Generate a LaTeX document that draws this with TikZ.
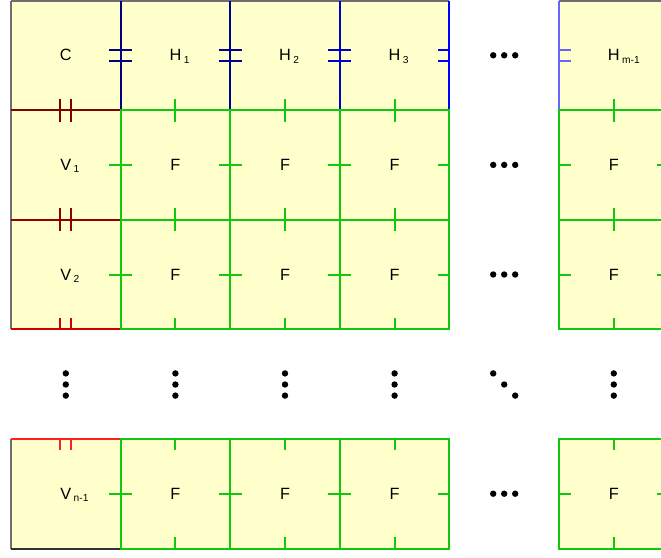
\documentclass[tikz,border=0pt]{standalone}
\usepackage{fontspec}
\setmainfont{Liberation Sans}
\definecolor{cellfill}{HTML}{FFFFCC}
\definecolor{gridgreen}{RGB}{17,200,17}
\definecolor{frame}{HTML}{6E6E6E}
\definecolor{framedark}{HTML}{303030}
\definecolor{blueA}{HTML}{000080}
\definecolor{blueB}{HTML}{000096}
\definecolor{blueC}{HTML}{0000CC}
\definecolor{blueD}{HTML}{0000FF}
\definecolor{blueE}{HTML}{6666FF}
\definecolor{redA}{HTML}{800000}
\definecolor{redB}{HTML}{900000}
\definecolor{redC}{HTML}{D00000}
\definecolor{redD}{HTML}{FF2020}
% zero-width lowered index, so the main letter stays centred in its cell
\newcommand\cellindex[1]{\rlap{\smash{\raisebox{-2.3pt}{\hspace{2.5pt}\fontsize{10.2}{12}\selectfont #1}}}}
\begin{document}
\begin{tikzpicture}[x=1pt,y=-1pt,
  cell/.style={minimum size=109.6pt, inner sep=0pt, outer sep=0pt, fill=cellfill,
               font=\fontsize{16.3}{19}\selectfont},
  wire/.style={line width=2pt},
  gwire/.style={line width=2pt, draw=gridgreen},
  dotmark/.style={circle, fill=black, inner sep=0pt, minimum size=6.4pt}
]
\useasboundingbox (0,0) rectangle (661,557);
\clip (0,0) rectangle (661,557);

% cells: first row (corner + H), first column (V), interior (F)
\node[cell] (c-0-0) at (65.8,55.3) {C};
\node[cell] (c-0-1) at (175.4,55.3) {H\cellindex{1}};
\node[cell] (c-0-2) at (285.0,55.3) {H\cellindex{2}};
\node[cell] (c-0-3) at (394.6,55.3) {H\cellindex{3}};
\node[cell] (c-0-5) at (613.8,55.3) {H\cellindex{m-1}};
\node[cell] (c-1-0) at (65.8,164.9) {V\cellindex{1}};
\node[cell] (c-2-0) at (65.8,274.5) {V\cellindex{2}};
\node[cell] (c-4-0) at (65.8,493.7) {V\cellindex{n-1}};
\foreach \r in {1,2,4}
  \foreach \k in {1,2,3,5}
    \node[cell] (c-\r-\k) at ({65.8+109.6*\k},{55.3+109.6*\r}) {F};

% outer frame
\draw[wire, frame] (c-0-0.north west) -- (c-0-3.north east);
\draw[wire, frame] (c-0-5.north west) -- (c-0-5.north east);
\draw[wire, frame] (c-0-0.north west) -- (c-2-0.south west);
\draw[wire, frame] (c-4-0.north west) -- (c-4-0.south west);
\draw[wire, framedark] (c-4-0.south west) -- (c-4-0.south east);

% blue vertical boundaries of the first row, with capacitor plates
\draw[wire, blueA] (c-0-0.north east) -- (c-0-0.south east)
  (c-0-0.east) ++(-11.5,-5.4) -- ++(23,0)
  (c-0-0.east) ++(-11.5,5.4) -- ++(23,0);
\draw[wire, blueB] (c-0-1.north east) -- (c-0-1.south east)
  (c-0-1.east) ++(-11.5,-5.4) -- ++(23,0)
  (c-0-1.east) ++(-11.5,5.4) -- ++(23,0);
\draw[wire, blueC] (c-0-2.north east) -- (c-0-2.south east)
  (c-0-2.east) ++(-11.5,-5.4) -- ++(23,0)
  (c-0-2.east) ++(-11.5,5.4) -- ++(23,0);
\draw[wire, blueD] (c-0-3.north east) -- (c-0-3.south east)
  (c-0-3.east) ++(-11.5,-5.4) -- ++(11.5,0)
  (c-0-3.east) ++(-11.5,5.4) -- ++(11.5,0);
\draw[wire, blueE] (c-0-5.north west) -- (c-0-5.south west)
  (c-0-5.west) ++(0,-5.4) -- ++(11.5,0)
  (c-0-5.west) ++(0,5.4) -- ++(11.5,0);

% red horizontal boundaries of the first column, with capacitor plates
\draw[wire, redA] (c-0-0.south west) -- (c-0-0.south east)
  (c-0-0.south) ++(-5.4,-11.5) -- ++(0,23)
  (c-0-0.south) ++(5.4,-11.5) -- ++(0,23);
\draw[wire, redB] (c-1-0.south west) -- (c-1-0.south east)
  (c-1-0.south) ++(-5.4,-11.5) -- ++(0,23)
  (c-1-0.south) ++(5.4,-11.5) -- ++(0,23);
\draw[wire, redC] (c-2-0.south west) -- (c-2-0.south east)
  (c-2-0.south) ++(-5.4,-11.5) -- ++(0,11.5)
  (c-2-0.south) ++(5.4,-11.5) -- ++(0,11.5);
\draw[wire, redD] (c-4-0.north west) -- (c-4-0.north east)
  (c-4-0.north) ++(-5.4,0) -- ++(0,11.5)
  (c-4-0.north) ++(5.4,0) -- ++(0,11.5);

% green interior cells with a tick on the middle of each side
\foreach \r in {1,2,4}
  \foreach \k in {1,2,3,5} {
    \draw[gwire] (c-\r-\k.north west) rectangle (c-\r-\k.south east);
    \draw[gwire] (c-\r-\k.north) -- ++(0,11.5)
                 (c-\r-\k.south) -- ++(0,-11.5)
                 (c-\r-\k.west) -- ++(11.5,0)
                 (c-\r-\k.east) -- ++(-11.5,0);
  }
\foreach \r in {1,2,4}
  \draw[gwire] (c-\r-0.east) -- ++(-11.5,0);
\foreach \k in {1,2,3,5}
  \draw[gwire] (c-0-\k.south) -- ++(0,-11.5);

% ellipses
\foreach \r/\y in {0/55.3,1/164.9,2/274.5,4/493.7}
  \foreach \i/\x in {1/493.2,2/504.2,3/515.2}
    \node[dotmark] (hd-\r-\i) at (\x,\y) {};
\foreach \k/\x in {0/65.8,1/175.4,2/285.0,3/394.6,5/613.8}
  \foreach \i/\y in {1/373.4,2/384.5,3/395.6}
    \node[dotmark] (vd-\k-\i) at (\x,\y) {};
\foreach \i/\x/\y in {1/493.2/373.4,2/504.2/384.5,3/515.2/395.6}
  \node[dotmark] (dd-\i) at (\x,\y) {};
\end{tikzpicture}
\end{document}
